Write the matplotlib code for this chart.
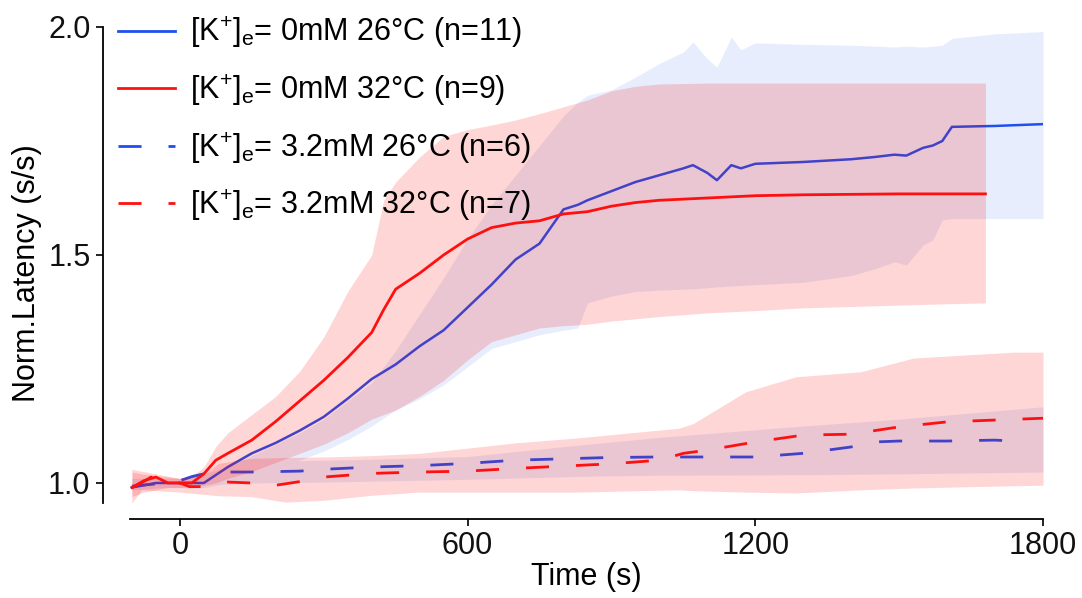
import matplotlib
matplotlib.use("Agg")
import matplotlib.pyplot as plt
from matplotlib.lines import Line2D

plt.rcParams['font.family'] = ['Liberation Sans', 'DejaVu Sans']
plt.rcParams['mathtext.fontset'] = 'custom'
plt.rcParams['mathtext.rm'] = 'Liberation Sans'
plt.rcParams['mathtext.it'] = 'Liberation Sans'

# ---- data ----
# [K+]e = 0mM, 26C (blue solid)
t_b0 = [-100, -50, 0, 50, 100, 150, 200, 250, 300, 350, 400, 450, 500, 550, 600, 650, 700, 750,
        800, 830, 850, 900, 950, 1000, 1050, 1070, 1100, 1120, 1150, 1170, 1200, 1300, 1400,
        1450, 1490, 1515, 1550, 1570, 1590, 1610, 1700, 1800]
m_b0 = [0.99, 1.0, 1.0, 1.0, 1.035, 1.065, 1.088, 1.115, 1.145, 1.185, 1.228, 1.26, 1.30, 1.335,
        1.385, 1.435, 1.49, 1.525, 1.60, 1.61, 1.62, 1.64, 1.66, 1.675, 1.69, 1.697, 1.68, 1.664,
        1.697, 1.69, 1.70, 1.704, 1.71, 1.715, 1.72, 1.718, 1.735, 1.74, 1.75, 1.781, 1.783, 1.787]
hi_b0 = [1.01, 1.01, 1.01, 1.02, 1.035, 1.06, 1.085, 1.11, 1.14, 1.18, 1.22, 1.29, 1.37, 1.45,
         1.535, 1.61, 1.675, 1.74, 1.805, 1.835, 1.85, 1.862, 1.89, 1.92, 1.945, 1.967, 1.93,
         1.912, 1.978, 1.95, 1.965, 1.962, 1.96, 1.958, 1.956, 1.958, 1.956, 1.958, 1.96, 1.975,
         1.985, 1.99]
lo_b0 = [0.985, 0.99, 0.99, 0.99, 1.0, 1.015, 1.03, 1.05, 1.07, 1.095, 1.125, 1.16, 1.185, 1.215,
         1.255, 1.295, 1.31, 1.325, 1.335, 1.34, 1.395, 1.41, 1.42, 1.423, 1.425, 1.426, 1.428,
         1.43, 1.432, 1.433, 1.435, 1.44, 1.455, 1.47, 1.485, 1.478, 1.522, 1.533, 1.577, 1.58,
         1.58, 1.58]

# [K+]e = 0mM, 32C (red solid)
t_r0 = [-100, -75, -50, -25, 0, 25, 50, 75, 100, 150, 200, 250, 300, 350, 400, 425, 450, 500,
        550, 600, 650, 700, 750, 800, 850, 900, 950, 1000, 1100, 1200, 1300, 1400, 1500, 1600, 1680]
m_r0 = [0.99, 1.005, 1.013, 1.0, 1.0, 1.0, 1.02, 1.05, 1.065, 1.094, 1.135, 1.18, 1.225, 1.275,
        1.33, 1.38, 1.425, 1.46, 1.50, 1.535, 1.56, 1.57, 1.575, 1.59, 1.595, 1.607, 1.615, 1.62,
        1.625, 1.63, 1.632, 1.633, 1.634, 1.634, 1.634]
hi_r0 = [1.03, 1.025, 1.02, 1.015, 1.01, 1.015, 1.035, 1.08, 1.11, 1.15, 1.19, 1.245, 1.32, 1.42,
         1.50, 1.62, 1.66, 1.715, 1.76, 1.775, 1.785, 1.796, 1.81, 1.825, 1.84, 1.86, 1.87, 1.875,
         1.877, 1.877, 1.877, 1.877, 1.877, 1.877, 1.877]
lo_r0 = [0.97, 0.98, 0.985, 0.99, 0.99, 0.992, 0.995, 1.0, 1.01, 1.025, 1.045, 1.065, 1.085, 1.11,
         1.14, 1.15, 1.16, 1.19, 1.225, 1.27, 1.31, 1.325, 1.34, 1.345, 1.348, 1.355, 1.36, 1.365,
         1.373, 1.378, 1.384, 1.387, 1.39, 1.393, 1.395]

# [K+]e = 3.2mM, 26C (blue dashed)
t_b3 = [-100, -50, 0, 25, 50, 100, 150, 200, 250, 300, 400, 500, 600, 700, 800, 900, 1000, 1100,
        1200, 1300, 1350, 1400, 1450, 1500, 1600, 1700, 1770]
m_b3 = [0.993, 0.998, 1.005, 1.014, 1.02, 1.024, 1.024, 1.025, 1.026, 1.03, 1.035, 1.038, 1.043,
        1.05, 1.053, 1.056, 1.057, 1.057, 1.057, 1.065, 1.072, 1.079, 1.09, 1.092, 1.092, 1.094, 1.09]
tb_b3 = [-100, 0, 100, 150, 300, 400, 600, 850, 1000, 1300, 1500, 1800]
hi_b3 = [1.01, 1.01, 1.03, 1.046, 1.05, 1.052, 1.058, 1.085, 1.1, 1.125, 1.14, 1.167]
lo_b3 = [0.985, 0.993, 0.998, 1.0, 1.002, 1.004, 1.008, 1.015, 1.017, 1.018, 1.02, 1.024]

# [K+]e = 3.2mM, 32C (red dashed)
t_r3 = [-100, -80, -60, -40, -20, 0, 20, 50, 100, 150, 200, 250, 300, 400, 500, 600, 700, 800,
        900, 1000, 1050, 1100, 1200, 1300, 1400, 1500, 1600, 1700, 1800]
m_r3 = [0.99, 1.0, 1.013, 1.004, 1.0, 1.0, 0.992, 0.992, 1.002, 1.0, 0.995, 1.003, 1.013, 1.021,
        1.024, 1.026, 1.032, 1.037, 1.042, 1.05, 1.065, 1.072, 1.09, 1.105, 1.107, 1.123, 1.134,
        1.138, 1.142]
tb_r3 = [-100, -80, 0, 50, 80, 150, 220, 300, 400, 500, 700, 830, 1040, 1070, 1180, 1285, 1420,
         1530, 1740, 1800]
hi_r3 = [1.024, 1.02, 1.01, 1.017, 1.043, 1.054, 1.056, 1.057, 1.06, 1.065, 1.088, 1.099, 1.12,
         1.13, 1.2, 1.233, 1.244, 1.274, 1.287, 1.287]
lo_r3 = [0.956, 0.985, 0.98, 0.975, 0.972, 0.97, 0.958, 0.962, 0.973, 0.98, 0.98, 0.98, 0.985,
         0.983, 0.98, 0.978, 0.985, 0.989, 0.994, 0.995]

labels = [r'[K$^{+}$]$_{\rm e}$= 0mM 26°C (n=11)',
          r'[K$^{+}$]$_{\rm e}$= 0mM 32°C (n=9)',
          r'[K$^{+}$]$_{\rm e}$= 3.2mM 26°C (n=6)',
          r'[K$^{+}$]$_{\rm e}$= 3.2mM 32°C (n=7)']

blue = '#1f4ff0'
red = '#ff1010'
blue_fill = '#e7edfc'
dash = (0, (8.3, 9.7))
fs = 22

fig = plt.figure(figsize=(10.82, 5.98), dpi=100)
ax = fig.add_axes([130 / 1082, 79 / 598, 913 / 1082, 492 / 598])

# blue first, red bands drawn translucent on top (gives the purple overlap)
ax.fill_between(t_b0, lo_b0, hi_b0, color=blue_fill, lw=0, zorder=1)
ax.fill_between(tb_b3, lo_b3, hi_b3, color=blue_fill, lw=0, zorder=1)
ax.plot(t_b0, m_b0, color=blue, lw=1.8, zorder=2)
ax.plot(t_b3, m_b3, color=blue, lw=2.0, ls=dash, zorder=2)
ax.fill_between(t_r0, lo_r0, hi_r0, color='red', alpha=0.16, lw=0, zorder=3)
ax.fill_between(tb_r3, lo_r3, hi_r3, color='red', alpha=0.16, lw=0, zorder=3)
ax.plot(t_r0, m_r0, color=red, lw=2.0, zorder=4)
ax.plot(t_r3, m_r3, color=red, lw=2.0, ls=dash, zorder=4)

ax.set_xlim(-104, 1800)
ax.set_ylim(0.921, 2.0)
ax.set_xticks([0, 600, 1200, 1800])
ax.set_yticks([1.0, 1.5, 2.0])
ax.set_yticklabels(['1.0', '1.5', '2.0'])
for s in ['top', 'right']:
    ax.spines[s].set_visible(False)
ax.spines['left'].set_position(('outward', 19.5))
ax.spines['left'].set_bounds(0.956, 2.0)
ax.spines['bottom'].set_bounds(-104, 1800)
for s in ['left', 'bottom']:
    ax.spines[s].set_linewidth(1.3)
ax.tick_params(direction='out', length=5, width=1.3, labelsize=fs, colors='#111111', pad=4)
ax.set_xlabel('Time (s)', fontsize=fs, labelpad=0)
ax.set_ylabel('Norm.Latency (s/s)', fontsize=fs, labelpad=4)

handles = [Line2D([], [], color=blue, lw=2.0),
           Line2D([], [], color=red, lw=2.0),
           Line2D([], [], color=blue, lw=2.0, ls=dash),
           Line2D([], [], color=red, lw=2.0, ls=dash)]
ax.legend(handles, labels, loc='upper left', bbox_to_anchor=(118 / 1082, 1 - 15 / 598),
          bbox_transform=fig.transFigure, frameon=False, fontsize=fs, handlelength=1.85,
          handletextpad=0.5, labelspacing=0.72, borderpad=0, borderaxespad=0)

fig.savefig('out.png', dpi=100)
